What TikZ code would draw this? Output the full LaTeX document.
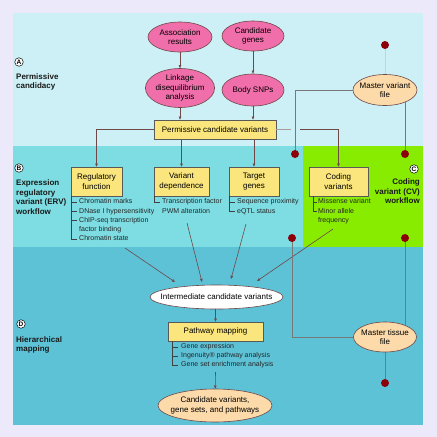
\documentclass[tikz,border=0pt]{standalone}
\usepackage{fontspec}
\setmainfont{Liberation Sans}
\usetikzlibrary{arrows.meta, shapes.geometric}

\definecolor{bgout}{RGB}{236,234,250}
\definecolor{bandA}{RGB}{204,240,245}
\definecolor{bandB}{RGB}{125,221,226}
\definecolor{bandD}{RGB}{93,194,214}
\definecolor{cvgreen}{RGB}{136,236,0}
\definecolor{pinkel}{RGB}{240,110,170}
\definecolor{peachel}{RGB}{252,218,170}
\definecolor{boxyel}{RGB}{251,230,125}
\definecolor{dotred}{RGB}{140,0,10}
\definecolor{lncol}{RGB}{110,72,72}
\definecolor{mlcol}{RGB}{120,120,120}

\begin{document}
\begin{tikzpicture}[x=1pt, y=-1pt,
  txt/.style={font=\fontsize{8}{9.5}\selectfont, align=center},
  pinkell/.style={txt, ellipse, draw=lncol, fill=pinkel, inner sep=0pt, line width=0.6pt},
  peachell/.style={txt, ellipse, draw=lncol, fill=peachel, inner sep=0pt, line width=0.6pt},
  whell/.style={txt, ellipse, draw=lncol, fill=white, inner sep=0pt, line width=0.6pt},
  ybox/.style={txt, rectangle, draw=black!65, fill=boxyel, inner sep=0pt, line width=0.6pt},
  seclet/.style={circle, draw=black, fill=white, inner sep=0pt, minimum size=8.5pt, line width=0.5pt,
    font=\bfseries\fontsize{6.5}{6.5}\selectfont},
  sectxt/.style={font=\bfseries\fontsize{8}{9.5}\selectfont, align=left, inner sep=0pt, text=black!90},
  lst/.style={font=\fontsize{7}{8.5}\selectfont, anchor=west, inner sep=0pt, text height=5pt,
    text depth=1.5pt, text=black!85},
  tick/.style={draw=black!75, line width=0.5pt},
  arr/.style={draw=lncol, line width=0.6pt, -{Triangle[length=3.2pt, width=2.6pt]}},
  mline/.style={draw=mlcol, line width=0.7pt}]
  \useasboundingbox (0,0) rectangle (437,437);

  % bands
  \fill[bgout] (0,0) rectangle (437,437);
  \fill[bandA] (13,13) rectangle (423,146);
  \fill[bandB] (13,146) rectangle (423,247);
  \fill[bandD] (13,247) rectangle (423,425);
  \fill[cvgreen] (303,146) rectangle (423,247);

  % section labels
  \node[seclet] (labA) at (19,62) {A};
  \node[sectxt, anchor=west] (txtA) at (16,82) {Permissive\\candidacy};
  \node[seclet] (labB) at (19,168) {B};
  \node[sectxt, anchor=west] (txtB) at (16,197) {Expression\\regulatory\\variant (ERV)\\workflow};
  \node[seclet] (labC) at (414,169) {C};
  \node[sectxt, align=right, anchor=east] (txtC) at (420,191.5) {Coding\\variant (CV)\\workflow};
  \node[seclet] (labD) at (21,324) {D};
  \node[sectxt, anchor=west] (txtD) at (16,345) {Hierarchical\\mapping};

  % permissive candidacy
  \node[pinkell, minimum width=64pt, minimum height=30pt] (assoc) at (180,37) {Association\\results};
  \node[pinkell, minimum width=62pt, minimum height=30pt] (cgenes) at (253,36) {Candidate\\genes};
  \node[pinkell, minimum width=69pt, minimum height=39pt] (ld) at (180,88) {Linkage\\disequilibrium\\analysis};
  \node[pinkell, minimum width=62pt, minimum height=32pt] (bsnp) at (253,90) {Body SNPs};
  \node[ybox, minimum width=122pt, minimum height=19pt] (pcv) at (215,129.5) {Permissive candidate variants};
  \node[peachell, minimum width=64pt, minimum height=31pt, inner xsep=-3pt] (mvf) at (385,90) {Master variant\\file};

  % workflow boxes
  \node[ybox, minimum width=51pt, minimum height=29pt] (rf) at (96.5,181.5) {Regulatory\\function};
  \node[ybox, minimum width=55pt, minimum height=29pt] (vd) at (181.5,181.5) {Variant\\dependence};
  \node[ybox, minimum width=50pt, minimum height=29pt] (tg) at (254,181.5) {Target\\genes};
  \node[ybox, minimum width=59pt, minimum height=29pt] (cv) at (338.5,181.5) {Coding\\variants};

  % hierarchical mapping
  \node[whell, minimum width=133pt, minimum height=24pt, inner xsep=-9pt] (icv) at (216.5,297) {Intermediate candidate variants};
  \node[ybox, minimum width=95pt, minimum height=19pt] (pm) at (215.5,331.5) {Pathway mapping};
  \node[peachell, minimum width=114pt, minimum height=33pt, inner xsep=-4.5pt] (res) at (215,405.5) {Candidate variants,\\gene sets, and pathways};
  \node[peachell, minimum width=63pt, minimum height=30pt, inner xsep=-2pt] (mtf) at (385,337) {Master tissue\\file};

  % lists
  \foreach \t [count=\i] in {Chromatin marks, DNase I hypersensitivity, ChIP-seq transcription, factor binding, Chromatin state}
    \node[lst] (rf-\i) at (79,192.75+9.25*\i) {\t};
  \coordinate (rfb) at ([xshift=1pt]rf.south west);
  \draw[tick] (rfb) |- ([xshift=-2pt]rf-5.west);
  \foreach \i in {1,2,3}
    \draw[tick] (rfb |- rf-\i.west) -- ([xshift=-2pt]rf-\i.west);

  \node[lst] (vd-1) at (162,202) {Transcription factor};
  \node[lst] (vd-2) at (162,211.25) {PWM alteration};
  \coordinate (vdb) at ([xshift=1pt]vd.south west);
  \draw[tick] (vdb) |- ([xshift=-2pt]vd-1.west);

  \node[lst] (tg-1) at (237,202) {Sequence proximity};
  \node[lst] (tg-2) at (237,211.25) {eQTL status};
  \coordinate (tgb) at ([xshift=1pt]tg.south west);
  \draw[tick] (tgb) |- ([xshift=-2pt]tg-2.west);
  \draw[tick] (tgb |- tg-1.west) -- ([xshift=-2pt]tg-1.west);

  \node[lst] (cv-1) at (318,202) {Missense variant};
  \node[lst] (cv-2) at (318,211.25) {Minor allele};
  \node[lst] (cv-3) at (318,220.5) {frequency};
  \coordinate (cvb) at ([xshift=4.5pt]cv.south west);
  \draw[tick] (cvb) |- ([xshift=-1.5pt]cv-2.west);
  \draw[tick] (cvb |- cv-1.west) -- ([xshift=-1.5pt]cv-1.west);

  \foreach \t [count=\i] in {Gene expression, Ingenuity® pathway analysis, Gene set enrichment analysis}
    \node[lst] (pm-\i) at (181,338+9*\i) {\t};
  \coordinate (pmb) at ([xshift=5pt]pm.south west);
  \draw[tick] (pmb) |- ([xshift=-3pt]pm-3.west);
  \foreach \i in {1,2}
    \draw[tick] (pmb |- pm-\i.west) -- ([xshift=-3pt]pm-\i.west);

  % arrows
  \draw[arr] (assoc) -- (ld);
  \draw[arr] (cgenes) -- (bsnp);
  \draw[arr] (ld) -- (ld |- pcv.north);
  \draw[arr] (bsnp) -- (bsnp |- pcv.north);
  \draw[arr] (pcv.west) -| (rf.north);
  \draw[arr] (vd.north |- pcv.south) -- (vd.north);
  \draw[arr] (tg.north |- pcv.south) -- (tg.north);
  \draw[draw=lncol!55, line width=0.6pt] (pcv.east) -- ++(15,0);
  \draw[arr] ([xshift=24pt]pcv.east) -| (cv.north);

  \coordinate (s1) at (125,248); \coordinate (e1) at (175,282);
  \coordinate (s2) at (187,223); \coordinate (e2) at (202,282);
  \coordinate (s3) at (246,224); \coordinate (e3) at (231,279);
  \coordinate (s4) at (333,229); \coordinate (e4) at (257,281);
  \foreach \i in {1,...,4}
    \draw[arr] (s\i) -- (e\i);
  \draw[arr] (pm.north |- icv.south) -- (pm.north);
  \coordinate (pmend) at (215.5,372);
  \draw[arr] (pmend) -- (res);

  % master files
  \coordinate (dtop) at (385,45);
  \coordinate (dv1) at (295,154);
  \coordinate (dv2) at (405,154);
  \coordinate (dt1) at (292,238);
  \coordinate (dt2) at (405,238);
  \coordinate (dbot) at (385,383);
  \draw[draw=mlcol!35, line width=0.5pt] (dtop) -- (mvf.north);
  \draw[mline] (mvf.west) -| (dv1);
  \draw[mline] (dv2 |- mvf.-31) -- (dv2);
  \draw[mline] (mtf.west) -| (dt1);
  \draw[mline] (dt2 |- mtf.30) -- (dt2);
  \draw[mline] (mtf.south) -- (dbot);
  \foreach \d in {dtop,dv1,dv2,dt1,dt2,dbot}
    \fill[dotred] (\d) circle (4);
\end{tikzpicture}
\end{document}
